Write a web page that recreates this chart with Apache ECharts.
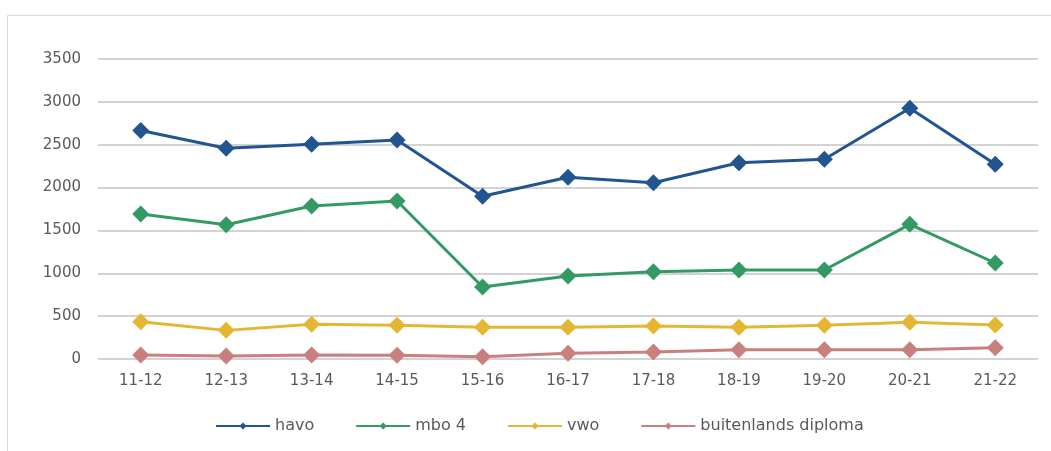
<!DOCTYPE html>
<html>
<head>
<meta charset="utf-8">
<style>html,body{margin:0;padding:0;background:#fff;}#c{width:1051px;height:451px;}</style>
<script src="https://cdn.jsdelivr.net/npm/echarts@6/dist/echarts.min.js"></script>
</head>
<body>
<div id="c"></div>
<script>
const categories = ['11-12','12-13','13-14','14-15','15-16','16-17','17-18','18-19','19-20','20-21','21-22'];
const havo = [2665, 2458, 2505, 2555, 1898, 2120, 2057, 2290, 2330, 2925, 2271];
const mbo4 = [1692, 1567, 1785, 1843, 840, 968, 1019, 1038, 1038, 1571, 1120];
const vwo = [435, 334, 405, 393, 370, 370, 385, 370, 393, 428, 397];
const buitenlands = [47, 35, 47, 43, 27, 66, 82, 109, 109, 109, 132];
const yTicks = [0, 500, 1000, 1500, 2000, 2500, 3000, 3500];

const font = 'DejaVu Sans';
const txt = '#595959';
function mk(name, data, color) {
  return {
    name, type: 'line', data,
    symbol: 'diamond', symbolSize: 17,
    lineStyle: { width: 3, color },
    itemStyle: { color },
    emphasis: { disabled: true },
    animation: false
  };
}
const chart = echarts.init(document.getElementById('c'), null, { renderer: 'canvas' });
chart.setOption({
  backgroundColor: '#fff',
  animation: false,
  graphic: [{
    type: 'rect', silent: true,
    shape: { x: 7.5, y: 15.5, width: 1100, height: 500 },
    style: { fill: 'none', stroke: '#d9d9d9', lineWidth: 1 }
  }],
  grid: { left: 98, right: 13, top: 59, bottom: 92, containLabel: false },
  xAxis: {
    type: 'category', data: categories, boundaryGap: true,
    axisLine: { show: false }, axisTick: { show: false },
    axisLabel: { color: txt, fontFamily: font, fontSize: 15, margin: 15 }
  },
  yAxis: {
    type: 'value', min: yTicks[0], max: yTicks[yTicks.length - 1], interval: 500,
    axisLine: { show: false }, axisTick: { show: false },
    axisLabel: { color: txt, fontFamily: font, fontSize: 15, margin: 17, formatter: v => String(v) },
    splitLine: { lineStyle: { color: '#c4c4c4', width: 1.5 } }
  },
  legend: {
    bottom: 12, left: 210,
    itemWidth: 54, itemHeight: 9, itemGap: 41,
    textStyle: { color: txt, fontFamily: font, fontSize: 16 },
    data: ['havo', 'mbo 4', 'vwo', 'buitenlands diploma']
  },
  series: [
    mk('havo', havo, '#22558F'),
    mk('mbo 4', mbo4, '#349A64'),
    mk('vwo', vwo, '#E5B632'),
    mk('buitenlands diploma', buitenlands, '#C97F7E')
  ]
});
</script>
</body>
</html>
